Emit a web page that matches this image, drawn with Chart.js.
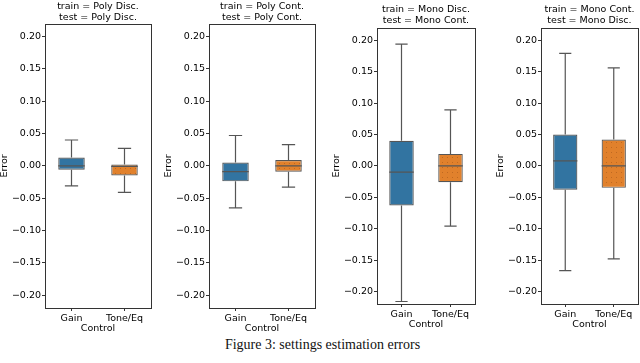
<!DOCTYPE html>
<html>
<head>
<meta charset="utf-8">
<script src="https://cdn.jsdelivr.net/npm/chart.js@4.4.1/dist/chart.umd.min.js"></script>
<style>
  body { margin: 0; background: #fff; }
  #fig { position: relative; width: 640px; height: 363px; overflow: hidden; }
  .panel { position: absolute; }
  .ttl { position: absolute; font: 9.5px "DejaVu Sans", sans-serif; line-height: 11px; color: #000; text-align: center; white-space: nowrap; width: 160px; }
  #caption { position: absolute; left: 0; width: 645px; top: 337px; text-align: center; font: 14px "Liberation Serif", "Times New Roman", serif; color: #111; }
</style>
</head>
<body>
<div id="fig">
  <div id="caption">Figure 3: settings estimation errors</div>
</div>
<script>
// Categories and panel titles
const categories = ["Gain", "Tone/Eq"];
const trainSets = ["Poly Disc.", "Poly Cont.", "Mono Disc.", "Mono Cont."];
const testSets = ["Poly Disc.", "Poly Cont.", "Mono Cont.", "Mono Disc."];
const yTicks = [-0.20, -0.15, -0.10, -0.05, 0.00, 0.05, 0.10, 0.15, 0.20];

// Box stats per panel
const gainMin = [-0.031, -0.065, -0.216, -0.167];
const gainQ1  = [-0.006, -0.024, -0.063, -0.038];
const gainMed = [0.000, -0.009, -0.010, 0.008];
const gainQ3  = [0.013, 0.005, 0.040, 0.050];
const gainMax = [0.040, 0.047, 0.194, 0.179];

const toneMin = [-0.041, -0.033, -0.096, -0.148];
const toneQ1  = [-0.015, -0.009, -0.026, -0.035];
const toneMed = [-0.001, 0.000, 0.000, 0.000];
const toneQ3  = [0.002, 0.009, 0.019, 0.042];
const toneMax = [0.027, 0.033, 0.089, 0.156];

// where each panel sits on the page
const panels = [
  { left: -1, top: 17, width: 154, height: 317, titleTop: -0.5 },
  { left: 163, top: 17, width: 154, height: 317, titleTop: -0.5 },
  { left: 331, top: 21, width: 146, height: 309, titleTop: 3 },
  { left: 495, top: 21, width: 145, height: 309, titleTop: 3 }
];

const blue = "#3274a1";
const orange = "#e1812c";
const lineGray = "#555555";

// dotted hatch for the orange boxes
function dotPattern() {
  const c = document.createElement("canvas");
  c.width = 5; c.height = 5;
  const g = c.getContext("2d");
  g.fillStyle = orange;
  g.fillRect(0, 0, 5, 5);
  g.fillStyle = "rgba(150,75,20,0.45)";
  g.fillRect(1, 1, 1, 1);
  return g.createPattern(c, "repeat");
}

const fmt = v => (v < 0 ? "\u2212" : "") + Math.abs(v).toFixed(2);

// whiskers, caps, medians and the frame
const boxPlugin = {
  id: "boxWhiskers",
  afterDatasetsDraw(chart) {
    const ctx = chart.ctx;
    const y = chart.scales.y;
    const meta = chart.getDatasetMeta(0);
    const st = chart.options.plugins.boxWhiskers;
    ctx.save();
    ctx.strokeStyle = lineGray;
    ctx.lineWidth = 1.2;
    meta.data.forEach((bar, i) => {
      const s = st.stats[i];
      const x = bar.x;
      const half = bar.width / 2;
      const cap = bar.width / 4;
      ctx.beginPath();
      ctx.moveTo(x, y.getPixelForValue(s.q3));
      ctx.lineTo(x, y.getPixelForValue(s.max));
      ctx.moveTo(x, y.getPixelForValue(s.q1));
      ctx.lineTo(x, y.getPixelForValue(s.min));
      ctx.moveTo(x - cap, y.getPixelForValue(s.max));
      ctx.lineTo(x + cap, y.getPixelForValue(s.max));
      ctx.moveTo(x - cap, y.getPixelForValue(s.min));
      ctx.lineTo(x + cap, y.getPixelForValue(s.min));
      ctx.moveTo(x - half, y.getPixelForValue(s.med));
      ctx.lineTo(x + half, y.getPixelForValue(s.med));
      ctx.stroke();
    });
    const a = chart.chartArea;
    ctx.strokeStyle = "#333";
    ctx.lineWidth = 1;
    ctx.strokeRect(Math.round(a.left) + 0.5, Math.round(a.top) + 0.5,
      Math.round(a.right - a.left), Math.round(a.bottom - a.top));
    ctx.restore();
  }
};

const fig = document.getElementById("fig");
const tickFont = { family: "DejaVu Sans", size: 9.5 };

panels.forEach((p, k) => {
  const box = document.createElement("div");
  box.className = "panel";
  box.style.left = p.left + "px";
  box.style.top = p.top + "px";
  const cv = document.createElement("canvas");
  cv.width = p.width;
  cv.height = p.height;
  box.appendChild(cv);
  fig.appendChild(box);

  // plot area spans 46px..width-2 of the canvas
  const t = document.createElement("div");
  t.className = "ttl";
  t.style.left = (p.left + 46 + (p.width - 48) / 2 - 80) + "px";
  t.style.top = p.titleTop + "px";
  t.innerHTML = "train = " + trainSets[k] + "<br>test = " + testSets[k];
  fig.appendChild(t);

  const stats = [
    { min: gainMin[k], q1: gainQ1[k], med: gainMed[k], q3: gainQ3[k], max: gainMax[k] },
    { min: toneMin[k], q1: toneQ1[k], med: toneMed[k], q3: toneQ3[k], max: toneMax[k] }
  ];

  new Chart(cv, {
    type: "bar",
    data: {
      labels: categories,
      datasets: [{
        data: stats.map(s => [s.q1, s.q3]),
        backgroundColor: [blue, dotPattern()],
        borderColor: lineGray,
        borderWidth: 1.2,
        borderSkipped: false,
        categoryPercentage: 1,
        barPercentage: 0.5
      }]
    },
    options: {
      responsive: false,
      animation: false,
      devicePixelRatio: 1,
      layout: { padding: { top: 6, right: 2, left: 0, bottom: 0 } },
      plugins: {
        legend: { display: false },
        tooltip: { enabled: false },
        boxWhiskers: { stats: stats }
      },
      scales: {
        x: {
          grid: { display: true, drawOnChartArea: false, offset: false, tickLength: 3, tickColor: "#333" },
          border: { display: false },
          ticks: { font: tickFont, color: "#000", padding: 2, maxRotation: 0 },
          title: { display: true, text: "Control", font: tickFont, color: "#000", padding: { top: 0, bottom: 0 } },
          afterFit: s => { s.height = 26; }
        },
        y: {
          min: -0.22,
          max: 0.22,
          afterBuildTicks: s => { s.ticks = yTicks.map(v => ({ value: v })); },
          grid: { display: true, drawOnChartArea: false, tickLength: 3, tickColor: "#333" },
          border: { display: false },
          ticks: { font: tickFont, color: "#000", padding: 1, callback: v => fmt(v) },
          title: { display: true, text: "Error", font: tickFont, color: "#000", padding: 0 },
          afterFit: s => { s.width = 46; }
        }
      }
    },
    plugins: [boxPlugin]
  });
});
</script>
</body>
</html>
